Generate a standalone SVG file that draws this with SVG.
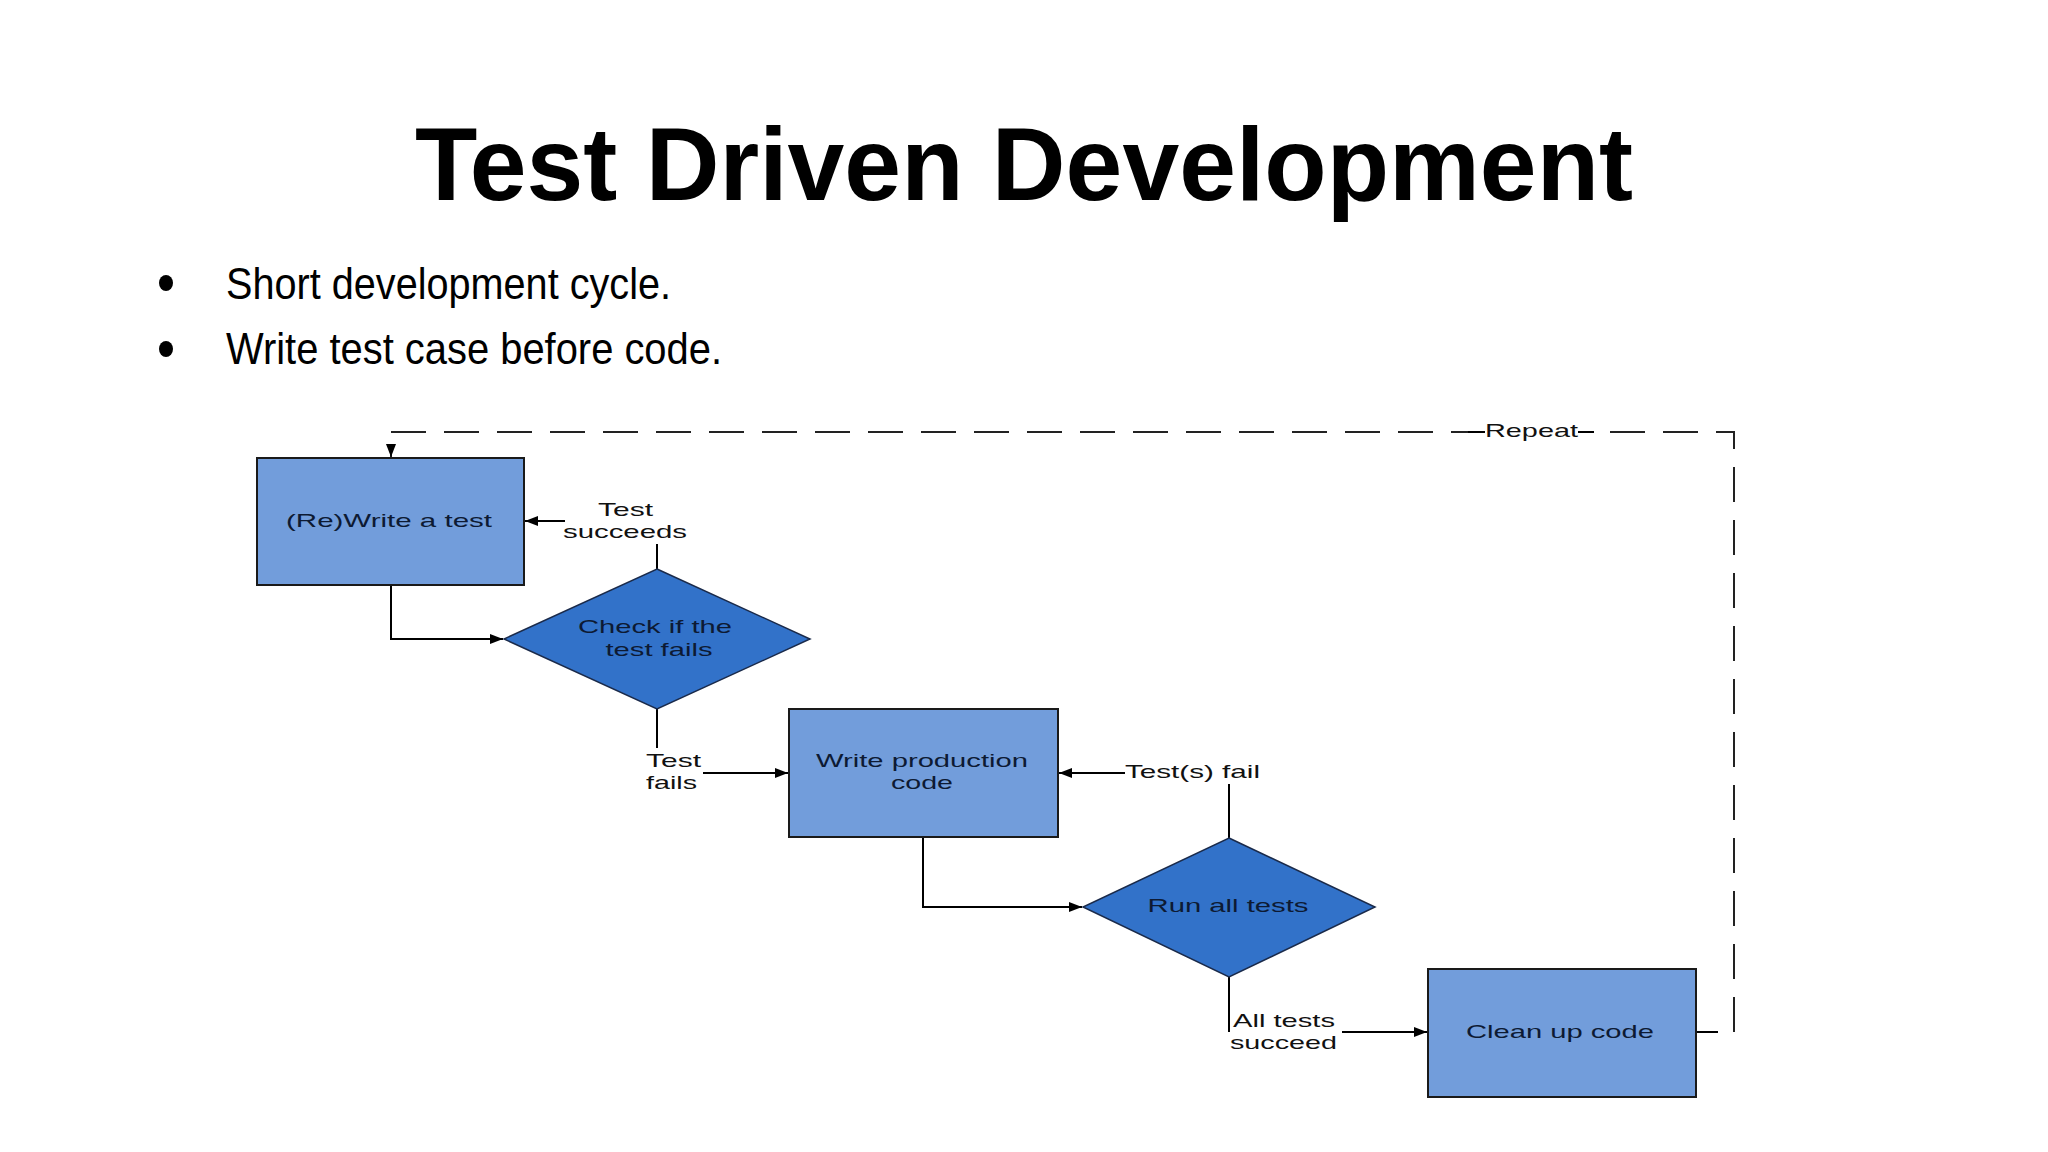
<svg xmlns="http://www.w3.org/2000/svg" width="2048" height="1152" viewBox="0 0 2048 1152">
  <defs>
    <marker id="arr" markerUnits="userSpaceOnUse" markerWidth="14" markerHeight="12" refX="13" refY="6" orient="auto">
      <path d="M0,1 L13,6 L0,11 z" fill="#000"/>
    </marker>
    <style>
      .title { font-family: "Liberation Sans", Arial, sans-serif; font-weight: bold; font-size: 104px; fill: #000; }
      .bullet { font-family: "Liberation Sans", Arial, sans-serif; font-size: 44px; fill: #000; }
      .box { fill: #729ddb; stroke: #1a1a1a; stroke-width: 2; }
      .dia { fill: #3272c9; stroke: #1a2a4a; stroke-width: 1.5; }
      .nt { font-family: "Liberation Sans", Arial, sans-serif; font-size: 19px; fill: #0d1a33; text-anchor: middle; }
      .lt { font-family: "Liberation Sans", Arial, sans-serif; font-size: 19px; fill: #111; }
      .con { fill: none; stroke: #000; stroke-width: 2; }
      .dash { fill: none; stroke: #222; stroke-width: 2; stroke-dasharray: 35 18; }
    </style>
  </defs>
  <rect x="0" y="0" width="2048" height="1152" fill="#fff"/>

  <text class="title" x="1024" y="200" text-anchor="middle" textLength="1218" lengthAdjust="spacingAndGlyphs">Test Driven Development</text>

  <g id="bullets">
    <ellipse cx="166" cy="283" rx="7" ry="8" fill="#000"/>
    <text class="bullet" x="226" y="299" textLength="445" lengthAdjust="spacingAndGlyphs">Short development cycle.</text>
    <ellipse cx="166" cy="349" rx="7" ry="8" fill="#000"/>
    <text class="bullet" x="226" y="364" textLength="496" lengthAdjust="spacingAndGlyphs">Write test case before code.</text>
  </g>

  <g id="connectors">
    <path class="con" d="M391,585 V639 H503" marker-end="url(#arr)"/>
    <path class="con" d="M657,569 V544"/>
    <path class="con" d="M565,521 H525" marker-end="url(#arr)"/>
    <path class="con" d="M657,709 V748"/>
    <path class="con" d="M703,773 H788" marker-end="url(#arr)"/>
    <path class="con" d="M923,837 V907 H1082" marker-end="url(#arr)"/>
    <path class="con" d="M1229,838 V784"/>
    <path class="con" d="M1125,773 H1059" marker-end="url(#arr)"/>
    <path class="con" d="M1229,977 V1032"/>
    <path class="con" d="M1342,1032 H1427" marker-end="url(#arr)"/>
    <path class="con" d="M1696,1032 H1718"/>
    <path class="dash" d="M1734,1032 V432 H391 V457" marker-end="url(#arr)"/>
    <rect x="1482" y="420" width="100" height="22" fill="#fff"/>
    <path class="con" d="M1468,432 H1485 M1578,432 H1594" stroke-width="2"/>
    <text class="lt" x="1485" y="437" textLength="93" lengthAdjust="spacingAndGlyphs">Repeat</text>
    <text class="lt" x="598" y="516" textLength="55" lengthAdjust="spacingAndGlyphs">Test</text>
    <text class="lt" x="563" y="538" textLength="124" lengthAdjust="spacingAndGlyphs">succeeds</text>
    <text class="lt" x="646" y="767" textLength="55" lengthAdjust="spacingAndGlyphs">Test</text>
    <text class="lt" x="646" y="789" textLength="51" lengthAdjust="spacingAndGlyphs">fails</text>
    <text class="lt" x="1125" y="778" textLength="135" lengthAdjust="spacingAndGlyphs">Test(s) fail</text>
    <text class="lt" x="1233" y="1027" textLength="102" lengthAdjust="spacingAndGlyphs">All tests</text>
    <text class="lt" x="1230" y="1049" textLength="107" lengthAdjust="spacingAndGlyphs">succeed</text>
  </g>

  <g id="write-test">
    <rect class="box" x="257" y="458" width="267" height="127"/>
    <text class="nt" x="389" y="527" textLength="206" lengthAdjust="spacingAndGlyphs">(Re)Write a test</text>
  </g>

  <g id="check-fails">
    <polygon class="dia" points="657,569 810,639 657,709 504,639"/>
    <text class="nt" x="655" y="633" textLength="154" lengthAdjust="spacingAndGlyphs">Check if the</text>
    <text class="nt" x="659" y="656" textLength="107" lengthAdjust="spacingAndGlyphs">test fails</text>
  </g>

  <g id="write-code">
    <rect class="box" x="789" y="709" width="269" height="128"/>
    <text class="nt" x="922" y="767" textLength="212" lengthAdjust="spacingAndGlyphs">Write production</text>
    <text class="nt" x="922" y="789" textLength="62" lengthAdjust="spacingAndGlyphs">code</text>
  </g>

  <g id="run-tests">
    <polygon class="dia" points="1229,838 1375,907 1229,977 1083,907"/>
    <text class="nt" x="1228" y="912" textLength="161" lengthAdjust="spacingAndGlyphs">Run all tests</text>
  </g>

  <g id="clean-up">
    <rect class="box" x="1428" y="969" width="268" height="128"/>
    <text class="nt" x="1560" y="1038" textLength="188" lengthAdjust="spacingAndGlyphs">Clean up code</text>
  </g>
</svg>
